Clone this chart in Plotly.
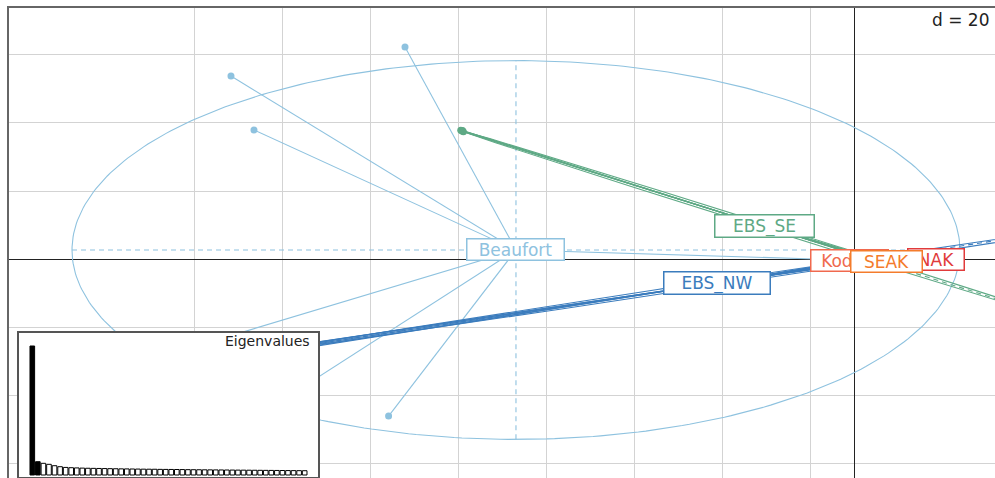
import numpy as np
import plotly.graph_objects as go

# ---------------------------------------------------------------- data
groups = ["Beaufort", "EBS_NW", "EBS_SE", "Kodiak", "NAK", "SEAK"]

# group centres on the two retained axes
centre_x = [-77.05, -31.36, -20.57, -1.25, 18.41, 7.16]
centre_y = [2.65, -7.06, 9.71, -0.44, -0.29, -0.74]

# individual scores, one pair of lists per group
beaufort_x = [-102.27, -141.82, -136.59, -106.0, -169.3, -140.7, -9.1]
beaufort_y = [62.35, 53.82, 37.94, -46.2, -33.2, -50.3, 0.0]

ebs_nw_x = [-160.2, -158.0, -162.5, -159.4, -161.3,
            0.6, 1.4, 0.9, 1.8, 0.3, 1.2, 2.1, 0.8, 1.5, 1.0, 1.7, 0.5]
ebs_nw_y = [-32.4, -31.3, -33.8, -32.9, -31.9,
            -0.3, -0.8, -0.5, -0.9, -0.2, -0.6, -1.0, -0.4, -0.7, -0.9, -0.5, -0.7]

ebs_se_x = [-89.3, -89.0, -89.6, -89.2,
            9.5, 10.4, 9.8, 10.9, 9.2, 10.2, 10.6, 9.7, 10.1]
ebs_se_y = [37.65, 37.4, 37.9, 37.8,
            -2.1, -2.6, -1.9, -2.8, -2.3, -2.5, -2.2, -2.7, -2.0]

kodiak_x = [-1.6, -0.9, -1.3, -1.0, -1.5]
kodiak_y = [-0.2, -0.7, -0.3, -0.6, -0.5]

nak_x = [18.0, 18.8, 18.3, 18.6]
nak_y = [-0.1, -0.5, -0.4, -0.1]

seak_x = [6.8, 7.5, 7.0, 7.4, 7.2]
seak_y = [-0.5, -0.9, -1.0, -0.6, -0.8]

# inertia ellipses (centre = group centre): semi-axis vectors
ellipse_groups = ["Beaufort", "EBS_NW", "EBS_SE"]
ellipse_major_x = [100.9, 96.61, -68.75]
ellipse_major_y = [0.0, 19.0, 27.94]
ellipse_minor_x = [0.0, 0.085, -0.17]
ellipse_minor_y = [55.7, -0.73, -0.70]

# eigenvalues of the analysis
eigenvalues = [25.8, 2.66, 2.34, 2.14, 1.86, 1.66, 1.52, 1.46, 1.42, 1.38,
               1.35, 1.33, 1.31, 1.29, 1.27, 1.25, 1.23, 1.22, 1.20, 1.19,
               1.17, 1.16, 1.15, 1.13, 1.12, 1.11, 1.10, 1.09, 1.07, 1.06,
               1.05, 1.04, 1.03, 1.02, 1.01, 1.00, 0.99, 0.98, 0.97, 0.96,
               0.95, 0.94, 0.93, 0.92, 0.91, 0.90, 0.89, 0.88, 0.87, 0.86]
n_black = 2   # axes shown in the scatter

grid_x = [-150, -130, -110, -90, -70, -50, -30, -10]
grid_y = [-60, -40, -20, 0, 20, 40, 60]
grid_label = "d = 20"

# ---------------------------------------------------------------- styles
colors = {
    "Beaufort": "#8EC2DF",
    "EBS_NW": "#3B7CBD",
    "EBS_SE": "#5EA985",
    "Kodiak": "#F0694E",
    "NAK": "#E13B3B",
    "SEAK": "#F47C2C",
}
label_width = {  # outer box width in px
    "Beaufort": 99,
    "EBS_NW": 108,
    "EBS_SE": 101,
    "Kodiak": 79,
    "NAK": 58,
    "SEAK": 73,
}
points = {
    "Beaufort": (beaufort_x, beaufort_y),
    "EBS_NW": (ebs_nw_x, ebs_nw_y),
    "EBS_SE": (ebs_se_x, ebs_se_y),
    "Kodiak": (kodiak_x, kodiak_y),
    "NAK": (nak_x, nak_y),
    "SEAK": (seak_x, seak_y),
}
FONT = "DejaVu Sans"

fig = go.Figure()

for gi, g in enumerate(groups):
    col = colors[g]
    cx, cy = centre_x[gi], centre_y[gi]
    px, py = points[g]

    # star: centre -> each individual
    sx, sy = [], []
    for x, y in zip(px, py):
        sx += [cx, x, None]
        sy += [cy, y, None]
    fig.add_trace(go.Scatter(x=sx, y=sy, mode="lines",
                             line=dict(color=col, width=1.1),
                             hoverinfo="skip", showlegend=False))

    # ellipse and its dashed axes
    if g in ellipse_groups:
        k = ellipse_groups.index(g)
        ux, uy = ellipse_major_x[k], ellipse_major_y[k]
        vx, vy = ellipse_minor_x[k], ellipse_minor_y[k]
        t = np.linspace(0, 2 * np.pi, 361)
        ex = cx + ux * np.cos(t) + vx * np.sin(t)
        ey = cy + uy * np.cos(t) + vy * np.sin(t)
        fig.add_trace(go.Scatter(x=ex, y=ey, mode="lines",
                                 line=dict(color=col, width=1.1),
                                 hoverinfo="skip", showlegend=False))
        fig.add_trace(go.Scatter(
            x=[cx - ux, cx + ux, None, cx - vx, cx + vx],
            y=[cy - uy, cy + uy, None, cy - vy, cy + vy],
            mode="lines", line=dict(color=col, width=1.1, dash="5px,4px"),
            hoverinfo="skip", showlegend=False))

    fig.add_trace(go.Scatter(x=px, y=py, mode="markers",
                             marker=dict(color=col, size=7),
                             name=g, showlegend=False))

# group labels at the centres
for gi, g in enumerate(groups):
    fig.add_annotation(
        x=centre_x[gi], y=centre_y[gi], xref="x", yref="y",
        text=g, showarrow=False, xanchor="center", yanchor="middle",
        font=dict(family=FONT, size=17, color=colors[g]),
        bgcolor="white", bordercolor=colors[g], borderwidth=1.5, borderpad=0,
        width=label_width[g] - 3)

# eigenvalue inset
bar_cols = ["black"] * n_black + ["white"] * (len(eigenvalues) - n_black)
fig.add_trace(go.Bar(
    x=list(range(1, len(eigenvalues) + 1)), y=eigenvalues,
    marker=dict(color=bar_cols, line=dict(color="black", width=1)),
    xaxis="x2", yaxis="y2", showlegend=False, hoverinfo="skip"))

fig.add_annotation(
    x=0.3073, y=0.2915, xref="paper", yref="paper", text="Eigenvalues",
    showarrow=False, xanchor="right", yanchor="middle",
    font=dict(family=FONT, size=14, color="#222222"))

fig.add_annotation(
    x=0.9959, y=0.9755, xref="paper", yref="paper", text=grid_label,
    showarrow=False, xanchor="right", yanchor="middle",
    font=dict(family=FONT, size=17, color="#222222"))

fig.update_layout(
    width=995, height=478,
    margin=dict(l=9, r=0, t=8, b=0),
    paper_bgcolor="white", plot_bgcolor="white",
    bargap=0.167,
    xaxis=dict(range=[-192.27, 31.82], tickvals=grid_x, showticklabels=False,
               ticks="", showgrid=True, gridcolor="#D3D3D3", gridwidth=1.4,
               zeroline=True, zerolinecolor="#222222", zerolinewidth=1.2,
               showline=True, side="top", linecolor="#666666", linewidth=2,
               fixedrange=True),
    yaxis=dict(range=[-64.41, 73.82], tickvals=grid_y, showticklabels=False,
               ticks="", showgrid=True, gridcolor="#D3D3D3", gridwidth=1.4,
               zeroline=True, zerolinecolor="#222222", zerolinewidth=1.2,
               showline=True, linecolor="#666666", linewidth=2,
               fixedrange=True),
    xaxis2=dict(domain=[0.0101, 0.3134], anchor="y2", range=[-1.4, 52.4],
                showgrid=False, zeroline=False, showticklabels=False,
                ticks="", showline=True, mirror=True,
                linecolor="#555555", linewidth=1.5),
    yaxis2=dict(domain=[0.0021, 0.3085], anchor="x2", range=[-0.4, 28.4],
                showgrid=False, zeroline=False, showticklabels=False,
                ticks="", showline=True, mirror=True,
                linecolor="#555555", linewidth=1.5),
)

fig.write_html("out.html")
